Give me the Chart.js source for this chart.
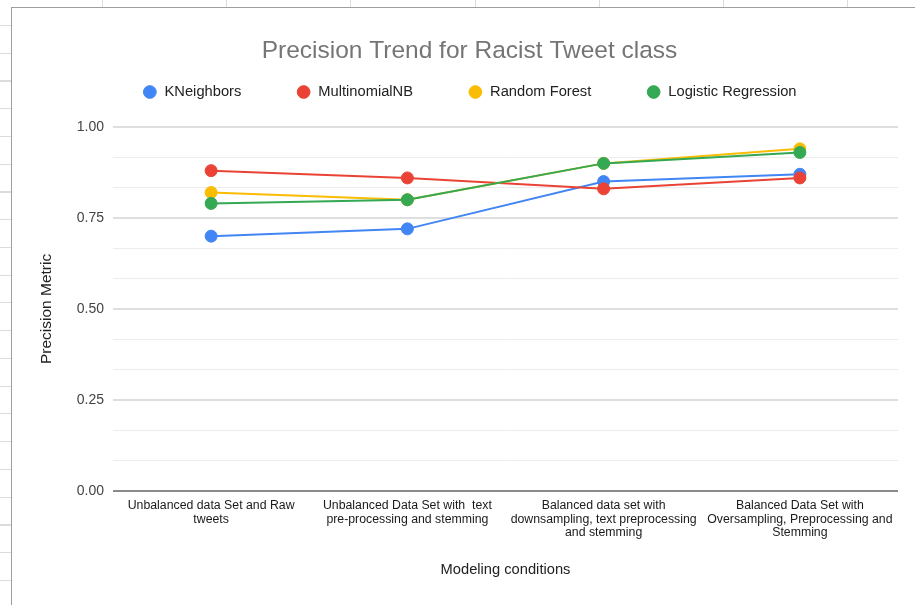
<!DOCTYPE html>
<html>
<head>
<meta charset="utf-8">
<title>Precision Trend for Racist Tweet class</title>
<script src="https://cdn.jsdelivr.net/npm/chart.js@4.4.1/dist/chart.umd.min.js"></script>
<style>
  html, body { margin: 0; padding: 0; background: #fff; }
  body { width: 915px; height: 605px; position: relative; overflow: hidden; }
  /* spreadsheet cells behind the chart */
  #rows { position: absolute; left: 0; top: 25px; width: 11px; height: 580px;
    background-image: repeating-linear-gradient(to bottom, #dcdcdc 0, #dcdcdc 1px, transparent 1px, transparent 27.75px); }
  #cols { position: absolute; left: 102px; top: 0; width: 813px; height: 7px;
    background-image: repeating-linear-gradient(to right, #dcdcdc 0, #dcdcdc 1px, transparent 1px, transparent 124.2px); }
  #box { position: absolute; left: 11px; top: 7px; width: 903px; height: 597px;
    border-left: 1px solid #9e9e9e; border-top: 1px solid #9e9e9e; background: #fff; }
</style>
</head>
<body>
<div id="rows"></div>
<div id="cols"></div>
<div id="box"><canvas id="myChart" width="903" height="597"></canvas></div>
<script>
// Data
const categories = [
  ['Unbalanced data Set and Raw', 'tweets'],
  ['Unbalanced Data Set with  text', 'pre-processing and stemming'],
  ['Balanced data set with', 'downsampling, text preprocessing', 'and stemming'],
  ['Balanced Data Set with', 'Oversampling, Preprocessing and', 'Stemming']
];
const kNeighbors = [0.70, 0.72, 0.85, 0.87];
const multinomialNB = [0.88, 0.86, 0.83, 0.86];
const randomForest = [0.82, 0.80, 0.90, 0.94];
const logisticRegression = [0.79, 0.80, 0.90, 0.93];

// y axis: labelled values, with 2 unlabelled lines between each
const yMajor = [0, 0.25, 0.5, 0.75, 1];
const yLabels = ['0.00', '0.25', '0.50', '0.75', '1.00'];
const minorSplit = 3;

Chart.defaults.font.family = "'Liberation Sans', Arial, sans-serif";

function makeSet(label, data, color, order) {
  return {
    label: label,
    data: data,
    borderColor: color,
    backgroundColor: color,
    pointBackgroundColor: color,
    pointBorderColor: color,
    borderWidth: 2,
    pointRadius: 6,
    pointBorderWidth: 1,
    pointHoverRadius: 6,
    tension: 0,
    fill: false,
    order: order   // later series drawn on top
  };
}

const isMajor = (v) => yMajor.indexOf(v) >= 0;

const chart = new Chart(document.getElementById('myChart'), {
  type: 'line',
  data: {
    labels: categories,
    datasets: [
      makeSet('KNeighbors', kNeighbors, '#4285f4', 3),
      makeSet('MultinomialNB', multinomialNB, '#ea4335', 2),
      makeSet('Random Forest', randomForest, '#fbbc04', 1),
      makeSet('Logistic Regression', logisticRegression, '#34a853', 0)
    ]
  },
  options: {
    responsive: false,
    animation: false,
    layout: { padding: { left: 29, right: 17, top: 0, bottom: 26.2 } },
    plugins: {
      title: {
        display: true,
        text: 'Precision Trend for Racist Tweet class',
        color: '#757575',
        font: { size: 24.5, weight: 'normal' },
        padding: { top: 28.3, bottom: -36.05 }
      },
      // empty subtitle used as a gap between the legend and the plot
      subtitle: {
        display: true,
        text: '',
        weight: 500,
        font: { size: 10, lineHeight: 1.765 },
        padding: 0
      },
      legend: {
        position: 'top',
        labels: {
          usePointStyle: true,
          pointStyle: 'circle',
          boxWidth: 14.7,
          boxHeight: 9,
          padding: 55,
          color: '#222',
          font: { size: 14.7 },
          sort: (a, b) => a.datasetIndex - b.datasetIndex
        }
      },
      tooltip: { enabled: false }
    },
    scales: {
      x: {
        offset: true,
        grid: { display: false, drawTicks: false },
        border: { display: false },
        ticks: {
          color: '#1a1a1a',
          font: { size: 12.3, lineHeight: 1.11 },
          padding: 8,
          maxRotation: 0,
          minRotation: 0,
          autoSkip: false
        },
        title: {
          display: true,
          text: 'Modeling conditions',
          color: '#222',
          font: { size: 14.7 },
          padding: { top: 13.4, bottom: 0 }
        }
      },
      y: {
        min: 0,
        max: 1,
        border: { display: false },
        afterBuildTicks: (axis) => {
          const t = [];
          for (let i = 0; i < yMajor.length; i++) {
            t.push({ value: yMajor[i] });
            if (i < yMajor.length - 1) {
              for (let k = 1; k < minorSplit; k++) {
                t.push({ value: yMajor[i] + (yMajor[i + 1] - yMajor[i]) * k / minorSplit });
              }
            }
          }
          axis.ticks = t;
        },
        afterFit: (scale) => {
          scale.width = 72;
        },
        ticks: {
          color: '#444',
          font: { size: 14 },
          padding: 9,
          autoSkip: false,
          callback: (v) => {
            const i = yMajor.indexOf(v);
            return i >= 0 ? yLabels[i] : '';
          }
        },
        grid: {
          drawTicks: false,
          color: (c) => {
            const v = c.tick ? c.tick.value : -1;
            if (v === 0) return '#8a8a8a';
            return isMajor(v) ? '#dedede' : '#ececec';
          },
          lineWidth: (c) => {
            const v = c.tick ? c.tick.value : -1;
            return isMajor(v) ? 2 : 1;
          }
        },
        title: {
          display: true,
          text: 'Precision Metric',
          color: '#222',
          font: { size: 15.5, lineHeight: 0.8 },
          padding: { top: 0, bottom: 0 }
        }
      }
    }
  }
});
</script>
</body>
</html>
